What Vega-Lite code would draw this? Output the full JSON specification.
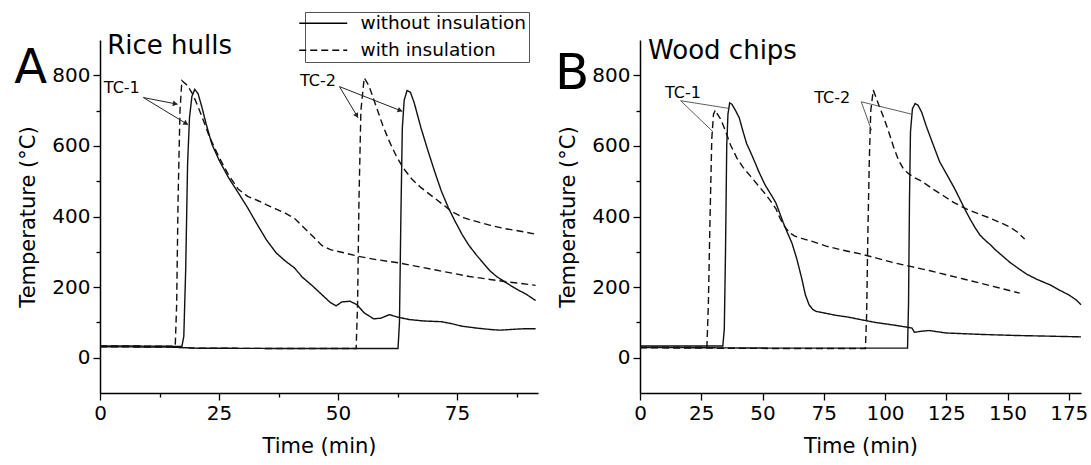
{
  "$schema": "https://vega.github.io/schema/vega-lite/v6.json",
  "padding": {"left": 14, "top": 11, "right": 0, "bottom": 0},
  "spacing": 15,
  "config": {
    "font": "DejaVu Sans",
    "view": {"stroke": null},
    "axis": {"domainColor": "#000", "domainWidth": 1.5, "tickColor": "#000", "tickWidth": 1.3, "labelColor": "#000", "titleColor": "#000", "labelFont": "DejaVu Sans", "titleFont": "DejaVu Sans", "labelFontSize": 20, "titleFontSize": 21, "titleFontWeight": "normal", "grid": false, "labelFlush": false, "labelOverlap": false},
    "legend": {"orient": "none", "title": null, "symbolType": "M-4.8,0H4.8", "symbolSize": 100, "symbolOffset": 7, "symbolStrokeWidth": 1.4, "symbolStrokeColor": "#000", "labelFontSize": 18.5, "labelFont": "DejaVu Sans", "labelColor": "#000", "labelOffset": 28, "labelLimit": 400, "strokeColor": "#555", "padding": 2, "rowPadding": 8}
  },
  "datasets": {
    "a": [
      {"t":0,"T":33,"tc":"TC-1","ins":"without insulation"},{"t":8,"T":33,"tc":"TC-1","ins":"without insulation"},{"t":17.2,"T":32,"tc":"TC-1","ins":"without insulation"},{"t":17.6,"T":60,"tc":"TC-1","ins":"without insulation"},{"t":18,"T":250,"tc":"TC-1","ins":"without insulation"},{"t":18.4,"T":550,"tc":"TC-1","ins":"without insulation"},{"t":18.8,"T":680,"tc":"TC-1","ins":"without insulation"},{"t":19.3,"T":740,"tc":"TC-1","ins":"without insulation"},{"t":19.9,"T":760,"tc":"TC-1","ins":"without insulation"},{"t":20.6,"T":748,"tc":"TC-1","ins":"without insulation"},{"t":21.4,"T":710,"tc":"TC-1","ins":"without insulation"},{"t":22.3,"T":662,"tc":"TC-1","ins":"without insulation"},{"t":23.5,"T":605,"tc":"TC-1","ins":"without insulation"},{"t":25,"T":560,"tc":"TC-1","ins":"without insulation"},{"t":27,"T":510,"tc":"TC-1","ins":"without insulation"},{"t":29,"T":468,"tc":"TC-1","ins":"without insulation"},{"t":31,"T":425,"tc":"TC-1","ins":"without insulation"},{"t":33,"T":378,"tc":"TC-1","ins":"without insulation"},{"t":35,"T":333,"tc":"TC-1","ins":"without insulation"},{"t":37,"T":297,"tc":"TC-1","ins":"without insulation"},{"t":39,"T":273,"tc":"TC-1","ins":"without insulation"},{"t":40.8,"T":255,"tc":"TC-1","ins":"without insulation"},{"t":42.5,"T":228,"tc":"TC-1","ins":"without insulation"},{"t":44.5,"T":205,"tc":"TC-1","ins":"without insulation"},{"t":46.5,"T":180,"tc":"TC-1","ins":"without insulation"},{"t":48.4,"T":156,"tc":"TC-1","ins":"without insulation"},{"t":49.6,"T":147,"tc":"TC-1","ins":"without insulation"},{"t":50.8,"T":158,"tc":"TC-1","ins":"without insulation"},{"t":52.5,"T":160,"tc":"TC-1","ins":"without insulation"},{"t":54,"T":150,"tc":"TC-1","ins":"without insulation"},{"t":55.5,"T":127,"tc":"TC-1","ins":"without insulation"},{"t":57.5,"T":110,"tc":"TC-1","ins":"without insulation"},{"t":59,"T":112,"tc":"TC-1","ins":"without insulation"},{"t":60.8,"T":122,"tc":"TC-1","ins":"without insulation"},{"t":62.5,"T":115,"tc":"TC-1","ins":"without insulation"},{"t":65,"T":108,"tc":"TC-1","ins":"without insulation"},{"t":68,"T":104,"tc":"TC-1","ins":"without insulation"},{"t":71.7,"T":102,"tc":"TC-1","ins":"without insulation"},{"t":74,"T":96,"tc":"TC-1","ins":"without insulation"},{"t":76.1,"T":89,"tc":"TC-1","ins":"without insulation"},{"t":79,"T":84,"tc":"TC-1","ins":"without insulation"},{"t":81.9,"T":80,"tc":"TC-1","ins":"without insulation"},{"t":84,"T":78,"tc":"TC-1","ins":"without insulation"},{"t":86.3,"T":80,"tc":"TC-1","ins":"without insulation"},{"t":89,"T":82,"tc":"TC-1","ins":"without insulation"},{"t":91.5,"T":82,"tc":"TC-1","ins":"without insulation"},
      {"t":0,"T":33,"tc":"TC-1","ins":"with insulation"},{"t":8,"T":33,"tc":"TC-1","ins":"with insulation"},{"t":15.8,"T":32,"tc":"TC-1","ins":"with insulation"},{"t":16.1,"T":150,"tc":"TC-1","ins":"with insulation"},{"t":16.4,"T":450,"tc":"TC-1","ins":"with insulation"},{"t":16.8,"T":700,"tc":"TC-1","ins":"with insulation"},{"t":17.2,"T":785,"tc":"TC-1","ins":"with insulation"},{"t":18.3,"T":772,"tc":"TC-1","ins":"with insulation"},{"t":19.5,"T":746,"tc":"TC-1","ins":"with insulation"},{"t":20.8,"T":704,"tc":"TC-1","ins":"with insulation"},{"t":22,"T":662,"tc":"TC-1","ins":"with insulation"},{"t":23,"T":625,"tc":"TC-1","ins":"with insulation"},{"t":25,"T":568,"tc":"TC-1","ins":"with insulation"},{"t":27,"T":518,"tc":"TC-1","ins":"with insulation"},{"t":29,"T":478,"tc":"TC-1","ins":"with insulation"},{"t":31,"T":457,"tc":"TC-1","ins":"with insulation"},{"t":33,"T":446,"tc":"TC-1","ins":"with insulation"},{"t":35,"T":433,"tc":"TC-1","ins":"with insulation"},{"t":37,"T":421,"tc":"TC-1","ins":"with insulation"},{"t":39,"T":409,"tc":"TC-1","ins":"with insulation"},{"t":41,"T":393,"tc":"TC-1","ins":"with insulation"},{"t":43,"T":366,"tc":"TC-1","ins":"with insulation"},{"t":45,"T":340,"tc":"TC-1","ins":"with insulation"},{"t":46.6,"T":318,"tc":"TC-1","ins":"with insulation"},{"t":48.4,"T":306,"tc":"TC-1","ins":"with insulation"},{"t":51,"T":298,"tc":"TC-1","ins":"with insulation"},{"t":54.3,"T":287,"tc":"TC-1","ins":"with insulation"},{"t":58,"T":278,"tc":"TC-1","ins":"with insulation"},{"t":63,"T":268,"tc":"TC-1","ins":"with insulation"},{"t":70.3,"T":249,"tc":"TC-1","ins":"with insulation"},{"t":77.6,"T":230,"tc":"TC-1","ins":"with insulation"},{"t":84.9,"T":216,"tc":"TC-1","ins":"with insulation"},{"t":91.5,"T":205,"tc":"TC-1","ins":"with insulation"},
      {"t":0,"T":31,"tc":"TC-2","ins":"with insulation"},{"t":15,"T":30,"tc":"TC-2","ins":"with insulation"},{"t":20,"T":27,"tc":"TC-2","ins":"with insulation"},{"t":40,"T":26,"tc":"TC-2","ins":"with insulation"},{"t":53.8,"T":26,"tc":"TC-2","ins":"with insulation"},{"t":54.1,"T":150,"tc":"TC-2","ins":"with insulation"},{"t":54.4,"T":450,"tc":"TC-2","ins":"with insulation"},{"t":54.8,"T":700,"tc":"TC-2","ins":"with insulation"},{"t":55.5,"T":793,"tc":"TC-2","ins":"with insulation"},{"t":56.5,"T":770,"tc":"TC-2","ins":"with insulation"},{"t":57.9,"T":716,"tc":"TC-2","ins":"with insulation"},{"t":59.4,"T":658,"tc":"TC-2","ins":"with insulation"},{"t":60.8,"T":612,"tc":"TC-2","ins":"with insulation"},{"t":62.2,"T":572,"tc":"TC-2","ins":"with insulation"},{"t":63.7,"T":537,"tc":"TC-2","ins":"with insulation"},{"t":65.5,"T":506,"tc":"TC-2","ins":"with insulation"},{"t":67.5,"T":481,"tc":"TC-2","ins":"with insulation"},{"t":70.3,"T":452,"tc":"TC-2","ins":"with insulation"},{"t":73.9,"T":414,"tc":"TC-2","ins":"with insulation"},{"t":76.5,"T":396,"tc":"TC-2","ins":"with insulation"},{"t":79,"T":386,"tc":"TC-2","ins":"with insulation"},{"t":82,"T":375,"tc":"TC-2","ins":"with insulation"},{"t":84.9,"T":366,"tc":"TC-2","ins":"with insulation"},{"t":88,"T":359,"tc":"TC-2","ins":"with insulation"},{"t":91.5,"T":350,"tc":"TC-2","ins":"with insulation"},
      {"t":0,"T":31,"tc":"TC-2","ins":"without insulation"},{"t":15,"T":30,"tc":"TC-2","ins":"without insulation"},{"t":20,"T":27,"tc":"TC-2","ins":"without insulation"},{"t":40,"T":26,"tc":"TC-2","ins":"without insulation"},{"t":62.6,"T":26,"tc":"TC-2","ins":"without insulation"},{"t":62.9,"T":100,"tc":"TC-2","ins":"without insulation"},{"t":63.2,"T":400,"tc":"TC-2","ins":"without insulation"},{"t":63.5,"T":650,"tc":"TC-2","ins":"without insulation"},{"t":63.9,"T":730,"tc":"TC-2","ins":"without insulation"},{"t":64.5,"T":757,"tc":"TC-2","ins":"without insulation"},{"t":65.2,"T":752,"tc":"TC-2","ins":"without insulation"},{"t":66,"T":722,"tc":"TC-2","ins":"without insulation"},{"t":67.4,"T":652,"tc":"TC-2","ins":"without insulation"},{"t":68.8,"T":590,"tc":"TC-2","ins":"without insulation"},{"t":70.3,"T":527,"tc":"TC-2","ins":"without insulation"},{"t":71.7,"T":472,"tc":"TC-2","ins":"without insulation"},{"t":73.2,"T":424,"tc":"TC-2","ins":"without insulation"},{"t":74.6,"T":386,"tc":"TC-2","ins":"without insulation"},{"t":76.1,"T":348,"tc":"TC-2","ins":"without insulation"},{"t":77.5,"T":318,"tc":"TC-2","ins":"without insulation"},{"t":79,"T":292,"tc":"TC-2","ins":"without insulation"},{"t":80.5,"T":268,"tc":"TC-2","ins":"without insulation"},{"t":81.9,"T":246,"tc":"TC-2","ins":"without insulation"},{"t":83.4,"T":229,"tc":"TC-2","ins":"without insulation"},{"t":84.9,"T":216,"tc":"TC-2","ins":"without insulation"},{"t":86.3,"T":204,"tc":"TC-2","ins":"without insulation"},{"t":87.8,"T":192,"tc":"TC-2","ins":"without insulation"},{"t":89.5,"T":180,"tc":"TC-2","ins":"without insulation"},{"t":91.5,"T":162,"tc":"TC-2","ins":"without insulation"}
    ],
    "b": [
      {"t":0,"T":33,"tc":"TC-1","ins":"without insulation"},{"t":20,"T":33,"tc":"TC-1","ins":"without insulation"},{"t":33.8,"T":33,"tc":"TC-1","ins":"without insulation"},{"t":34.4,"T":80,"tc":"TC-1","ins":"without insulation"},{"t":34.9,"T":300,"tc":"TC-1","ins":"without insulation"},{"t":35.4,"T":600,"tc":"TC-1","ins":"without insulation"},{"t":35.9,"T":690,"tc":"TC-1","ins":"without insulation"},{"t":36.6,"T":722,"tc":"TC-1","ins":"without insulation"},{"t":37.5,"T":718,"tc":"TC-1","ins":"without insulation"},{"t":39,"T":700,"tc":"TC-1","ins":"without insulation"},{"t":40.5,"T":680,"tc":"TC-1","ins":"without insulation"},{"t":42,"T":642,"tc":"TC-1","ins":"without insulation"},{"t":43.5,"T":607,"tc":"TC-1","ins":"without insulation"},{"t":45,"T":584,"tc":"TC-1","ins":"without insulation"},{"t":47,"T":552,"tc":"TC-1","ins":"without insulation"},{"t":48.5,"T":527,"tc":"TC-1","ins":"without insulation"},{"t":51,"T":490,"tc":"TC-1","ins":"without insulation"},{"t":54,"T":456,"tc":"TC-1","ins":"without insulation"},{"t":55.5,"T":438,"tc":"TC-1","ins":"without insulation"},{"t":57,"T":410,"tc":"TC-1","ins":"without insulation"},{"t":58.5,"T":382,"tc":"TC-1","ins":"without insulation"},{"t":60,"T":357,"tc":"TC-1","ins":"without insulation"},{"t":62,"T":325,"tc":"TC-1","ins":"without insulation"},{"t":64,"T":280,"tc":"TC-1","ins":"without insulation"},{"t":66,"T":225,"tc":"TC-1","ins":"without insulation"},{"t":67.5,"T":178,"tc":"TC-1","ins":"without insulation"},{"t":69,"T":150,"tc":"TC-1","ins":"without insulation"},{"t":70.5,"T":137,"tc":"TC-1","ins":"without insulation"},{"t":72,"T":131,"tc":"TC-1","ins":"without insulation"},{"t":75,"T":127,"tc":"TC-1","ins":"without insulation"},{"t":80,"T":120,"tc":"TC-1","ins":"without insulation"},{"t":85,"T":115,"tc":"TC-1","ins":"without insulation"},{"t":90,"T":108,"tc":"TC-1","ins":"without insulation"},{"t":96,"T":100,"tc":"TC-1","ins":"without insulation"},{"t":100,"T":96,"tc":"TC-1","ins":"without insulation"},{"t":104,"T":92,"tc":"TC-1","ins":"without insulation"},{"t":109.4,"T":86,"tc":"TC-1","ins":"without insulation"},{"t":111,"T":84,"tc":"TC-1","ins":"without insulation"},{"t":112,"T":72,"tc":"TC-1","ins":"without insulation"},{"t":115,"T":75,"tc":"TC-1","ins":"without insulation"},{"t":118,"T":77,"tc":"TC-1","ins":"without insulation"},{"t":122,"T":73,"tc":"TC-1","ins":"without insulation"},{"t":125,"T":70,"tc":"TC-1","ins":"without insulation"},{"t":139,"T":66,"tc":"TC-1","ins":"without insulation"},{"t":153,"T":63,"tc":"TC-1","ins":"without insulation"},{"t":167,"T":61,"tc":"TC-1","ins":"without insulation"},{"t":180,"T":59,"tc":"TC-1","ins":"without insulation"},
      {"t":0,"T":30,"tc":"TC-1","ins":"with insulation"},{"t":20,"T":30,"tc":"TC-1","ins":"with insulation"},{"t":27.3,"T":30,"tc":"TC-1","ins":"with insulation"},{"t":27.9,"T":150,"tc":"TC-1","ins":"with insulation"},{"t":28.6,"T":400,"tc":"TC-1","ins":"with insulation"},{"t":29.3,"T":620,"tc":"TC-1","ins":"with insulation"},{"t":30,"T":690,"tc":"TC-1","ins":"with insulation"},{"t":30.8,"T":702,"tc":"TC-1","ins":"with insulation"},{"t":31.6,"T":690,"tc":"TC-1","ins":"with insulation"},{"t":33,"T":675,"tc":"TC-1","ins":"with insulation"},{"t":35,"T":640,"tc":"TC-1","ins":"with insulation"},{"t":37,"T":602,"tc":"TC-1","ins":"with insulation"},{"t":39.5,"T":566,"tc":"TC-1","ins":"with insulation"},{"t":42,"T":540,"tc":"TC-1","ins":"with insulation"},{"t":45,"T":515,"tc":"TC-1","ins":"with insulation"},{"t":48,"T":490,"tc":"TC-1","ins":"with insulation"},{"t":51,"T":465,"tc":"TC-1","ins":"with insulation"},{"t":53.5,"T":442,"tc":"TC-1","ins":"with insulation"},{"t":55.5,"T":422,"tc":"TC-1","ins":"with insulation"},{"t":57,"T":397,"tc":"TC-1","ins":"with insulation"},{"t":59,"T":372,"tc":"TC-1","ins":"with insulation"},{"t":61,"T":354,"tc":"TC-1","ins":"with insulation"},{"t":63,"T":345,"tc":"TC-1","ins":"with insulation"},{"t":66,"T":338,"tc":"TC-1","ins":"with insulation"},{"t":70,"T":330,"tc":"TC-1","ins":"with insulation"},{"t":76,"T":316,"tc":"TC-1","ins":"with insulation"},{"t":82.5,"T":305,"tc":"TC-1","ins":"with insulation"},{"t":90,"T":294,"tc":"TC-1","ins":"with insulation"},{"t":96.6,"T":282,"tc":"TC-1","ins":"with insulation"},{"t":103,"T":270,"tc":"TC-1","ins":"with insulation"},{"t":110.8,"T":258,"tc":"TC-1","ins":"with insulation"},{"t":118,"T":247,"tc":"TC-1","ins":"with insulation"},{"t":125,"T":235,"tc":"TC-1","ins":"with insulation"},{"t":132,"T":223,"tc":"TC-1","ins":"with insulation"},{"t":139,"T":211,"tc":"TC-1","ins":"with insulation"},{"t":147,"T":197,"tc":"TC-1","ins":"with insulation"},{"t":155,"T":183,"tc":"TC-1","ins":"with insulation"},
      {"t":0,"T":28,"tc":"TC-2","ins":"with insulation"},{"t":30,"T":27,"tc":"TC-2","ins":"with insulation"},{"t":60,"T":26,"tc":"TC-2","ins":"with insulation"},{"t":92,"T":26,"tc":"TC-2","ins":"with insulation"},{"t":92.5,"T":120,"tc":"TC-2","ins":"with insulation"},{"t":93,"T":350,"tc":"TC-2","ins":"with insulation"},{"t":93.6,"T":560,"tc":"TC-2","ins":"with insulation"},{"t":94.2,"T":700,"tc":"TC-2","ins":"with insulation"},{"t":95.2,"T":758,"tc":"TC-2","ins":"with insulation"},{"t":96.2,"T":740,"tc":"TC-2","ins":"with insulation"},{"t":97.5,"T":715,"tc":"TC-2","ins":"with insulation"},{"t":99.5,"T":680,"tc":"TC-2","ins":"with insulation"},{"t":101.5,"T":640,"tc":"TC-2","ins":"with insulation"},{"t":103.5,"T":597,"tc":"TC-2","ins":"with insulation"},{"t":105.5,"T":560,"tc":"TC-2","ins":"with insulation"},{"t":107.5,"T":535,"tc":"TC-2","ins":"with insulation"},{"t":109.5,"T":522,"tc":"TC-2","ins":"with insulation"},{"t":112,"T":510,"tc":"TC-2","ins":"with insulation"},{"t":115,"T":500,"tc":"TC-2","ins":"with insulation"},{"t":119.5,"T":478,"tc":"TC-2","ins":"with insulation"},{"t":124,"T":458,"tc":"TC-2","ins":"with insulation"},{"t":128,"T":440,"tc":"TC-2","ins":"with insulation"},{"t":133,"T":422,"tc":"TC-2","ins":"with insulation"},{"t":138,"T":408,"tc":"TC-2","ins":"with insulation"},{"t":143,"T":395,"tc":"TC-2","ins":"with insulation"},{"t":147,"T":383,"tc":"TC-2","ins":"with insulation"},{"t":151,"T":370,"tc":"TC-2","ins":"with insulation"},{"t":154,"T":356,"tc":"TC-2","ins":"with insulation"},{"t":157,"T":336,"tc":"TC-2","ins":"with insulation"},
      {"t":0,"T":29,"tc":"TC-2","ins":"without insulation"},{"t":30,"T":28,"tc":"TC-2","ins":"without insulation"},{"t":60,"T":27,"tc":"TC-2","ins":"without insulation"},{"t":90,"T":27,"tc":"TC-2","ins":"without insulation"},{"t":109.2,"T":27,"tc":"TC-2","ins":"without insulation"},{"t":109.6,"T":150,"tc":"TC-2","ins":"without insulation"},{"t":110,"T":450,"tc":"TC-2","ins":"without insulation"},{"t":110.4,"T":640,"tc":"TC-2","ins":"without insulation"},{"t":111.2,"T":705,"tc":"TC-2","ins":"without insulation"},{"t":112.3,"T":720,"tc":"TC-2","ins":"without insulation"},{"t":113.5,"T":715,"tc":"TC-2","ins":"without insulation"},{"t":115,"T":695,"tc":"TC-2","ins":"without insulation"},{"t":116.8,"T":657,"tc":"TC-2","ins":"without insulation"},{"t":118.5,"T":625,"tc":"TC-2","ins":"without insulation"},{"t":120.5,"T":588,"tc":"TC-2","ins":"without insulation"},{"t":122.3,"T":555,"tc":"TC-2","ins":"without insulation"},{"t":124.5,"T":528,"tc":"TC-2","ins":"without insulation"},{"t":126.5,"T":503,"tc":"TC-2","ins":"without insulation"},{"t":128.5,"T":478,"tc":"TC-2","ins":"without insulation"},{"t":130.5,"T":450,"tc":"TC-2","ins":"without insulation"},{"t":132.5,"T":422,"tc":"TC-2","ins":"without insulation"},{"t":134.7,"T":393,"tc":"TC-2","ins":"without insulation"},{"t":136.8,"T":368,"tc":"TC-2","ins":"without insulation"},{"t":138.8,"T":347,"tc":"TC-2","ins":"without insulation"},{"t":141,"T":332,"tc":"TC-2","ins":"without insulation"},{"t":143,"T":320,"tc":"TC-2","ins":"without insulation"},{"t":145,"T":306,"tc":"TC-2","ins":"without insulation"},{"t":147,"T":294,"tc":"TC-2","ins":"without insulation"},{"t":151,"T":270,"tc":"TC-2","ins":"without insulation"},{"t":155,"T":250,"tc":"TC-2","ins":"without insulation"},{"t":158,"T":236,"tc":"TC-2","ins":"without insulation"},{"t":162,"T":222,"tc":"TC-2","ins":"without insulation"},{"t":167.5,"T":206,"tc":"TC-2","ins":"without insulation"},{"t":171.6,"T":190,"tc":"TC-2","ins":"without insulation"},{"t":175,"T":178,"tc":"TC-2","ins":"without insulation"},{"t":178,"T":164,"tc":"TC-2","ins":"without insulation"},{"t":180,"T":150,"tc":"TC-2","ins":"without insulation"}
    ],
    "labA": [
      {"t":-18,"T":778,"label":"A","kind":"letter"},
      {"t":1.5,"T":860,"label":"Rice hulls","kind":"title"},
      {"t":0.8,"T":765,"label":"TC-1","kind":"tc"},
      {"t":42,"T":785,"label":"TC-2","kind":"tc"}
    ],
    "labB": [
      {"t":-34.7,"T":761,"label":"B","kind":"letter"},
      {"t":3.3,"T":846,"label":"Wood chips","kind":"title"},
      {"t":10.2,"T":751,"label":"TC-1","kind":"tc"},
      {"t":71.1,"T":737,"label":"TC-2","kind":"tc"}
    ],
    "arrA": [
      {"name":"a1","t1":9.1,"v1":737,"t2":16.3,"v2":718},
      {"name":"a2","t1":9.1,"v1":737,"t2":18.5,"v2":660},
      {"name":"a3","t1":50.3,"v1":768,"t2":54.2,"v2":680},
      {"name":"a4","t1":50.3,"v1":768,"t2":63.5,"v2":698}
    ],
    "arrB": [
      {"name":"b1","t1":16.6,"v1":728,"t2":29.8,"v2":640},
      {"name":"b2","t1":16.6,"v1":728,"t2":36.4,"v2":706},
      {"name":"b3","t1":90.3,"v1":725,"t2":94.5,"v2":644},
      {"name":"b4","t1":90.3,"v1":725,"t2":110.8,"v2":690}
    ]
  },
  "hconcat": [
    {
      "width": 438,
      "height": 353,
      "layer": [
        {
          "data": {"name": "a"},
          "mark": {"type": "line", "color": "#111", "strokeWidth": 1.4},
          "encoding": {
            "x": {"field": "t", "type": "quantitative", "scale": {"domain": [0, 92], "nice": false, "zero": false},
                  "axis": {"title": "Time (min)", "values": [0,12.5,25,37.5,50,62.5,75,87.5], "labelExpr": "datum.value % 25 === 0 ? datum.label : ''", "tickSize": {"condition": {"test": "datum.value % 25 !== 0", "value": 4}, "value": 7}, "labelPadding": 3, "titlePadding": 12}},
            "y": {"field": "T", "type": "quantitative", "scale": {"domain": [-100, 900], "nice": false, "zero": false},
                  "axis": {"title": "Temperature (°C)", "values": [0,100,200,300,400,500,600,700,800], "labelExpr": "datum.value % 200 === 0 ? datum.label : ''", "tickSize": {"condition": {"test": "datum.value % 200 !== 0", "value": 4}, "value": 7}, "labelPadding": 3, "titlePadding": 13}},
            "detail": {"field": "tc"},
            "strokeDash": {"field": "ins", "type": "nominal", "scale": {"domain": ["without insulation", "with insulation"], "range": [[1, 0], [7, 4]]},
                           "legend": {"legendX": 205, "legendY": -28}}
          }
        },
        {
          "data": {"name": "arrA"},
          "mark": {"type": "rule", "color": "#222", "strokeWidth": 1},
          "encoding": {
            "x": {"field": "t1", "type": "quantitative", "scale": {"domain": [0, 92], "nice": false, "zero": false}},
            "y": {"field": "v1", "type": "quantitative", "scale": {"domain": [-100, 900], "nice": false, "zero": false}},
            "x2": {"field": "t2"},
            "y2": {"field": "v2"}
          }
        },
        {
          "data": {"name": "arrA"},
          "transform": [{"filter": "datum.name === 'a1'"}],
          "mark": {"type": "point", "shape": "M-1,-0.6L0,0L-1,0.6Z", "filled": true, "color": "#222", "size": 90, "opacity": 1, "angle": 11},
          "encoding": {
            "x": {"field": "t2", "type": "quantitative", "scale": {"domain": [0, 92], "nice": false, "zero": false}},
            "y": {"field": "v2", "type": "quantitative", "scale": {"domain": [-100, 900], "nice": false, "zero": false}}
          }
        },
        {
          "data": {"name": "arrA"},
          "transform": [{"filter": "datum.name === 'a2'"}],
          "mark": {"type": "point", "shape": "M-1,-0.6L0,0L-1,0.6Z", "filled": true, "color": "#222", "size": 90, "opacity": 1, "angle": 31},
          "encoding": {
            "x": {"field": "t2", "type": "quantitative", "scale": {"domain": [0, 92], "nice": false, "zero": false}},
            "y": {"field": "v2", "type": "quantitative", "scale": {"domain": [-100, 900], "nice": false, "zero": false}}
          }
        },
        {
          "data": {"name": "arrA"},
          "transform": [{"filter": "datum.name === 'a3'"}],
          "mark": {"type": "point", "shape": "M-1,-0.6L0,0L-1,0.6Z", "filled": true, "color": "#222", "size": 90, "opacity": 1, "angle": 59},
          "encoding": {
            "x": {"field": "t2", "type": "quantitative", "scale": {"domain": [0, 92], "nice": false, "zero": false}},
            "y": {"field": "v2", "type": "quantitative", "scale": {"domain": [-100, 900], "nice": false, "zero": false}}
          }
        },
        {
          "data": {"name": "arrA"},
          "transform": [{"filter": "datum.name === 'a4'"}],
          "mark": {"type": "point", "shape": "M-1,-0.6L0,0L-1,0.6Z", "filled": true, "color": "#222", "size": 90, "opacity": 1, "angle": 21},
          "encoding": {
            "x": {"field": "t2", "type": "quantitative", "scale": {"domain": [0, 92], "nice": false, "zero": false}},
            "y": {"field": "v2", "type": "quantitative", "scale": {"domain": [-100, 900], "nice": false, "zero": false}}
          }
        },
        {
          "data": {"name": "labA"},
          "transform": [{"filter": "datum.kind === 'letter'"}],
          "mark": {"type": "text", "align": "left", "baseline": "alphabetic", "fontSize": 48, "font": "DejaVu Sans", "color": "#000"},
          "encoding": {
            "x": {"field": "t", "type": "quantitative", "scale": {"domain": [0, 92], "nice": false, "zero": false}},
            "y": {"field": "T", "type": "quantitative", "scale": {"domain": [-100, 900], "nice": false, "zero": false}},
            "text": {"field": "label"}
          }
        },
        {
          "data": {"name": "labA"},
          "transform": [{"filter": "datum.kind === 'title'"}],
          "mark": {"type": "text", "align": "left", "baseline": "alphabetic", "fontSize": 26, "font": "DejaVu Sans", "color": "#000"},
          "encoding": {
            "x": {"field": "t", "type": "quantitative", "scale": {"domain": [0, 92], "nice": false, "zero": false}},
            "y": {"field": "T", "type": "quantitative", "scale": {"domain": [-100, 900], "nice": false, "zero": false}},
            "text": {"field": "label"}
          }
        },
        {
          "data": {"name": "labA"},
          "transform": [{"filter": "datum.kind === 'tc'"}],
          "mark": {"type": "text", "align": "left", "baseline": "middle", "fontSize": 16, "font": "DejaVu Sans", "color": "#000"},
          "encoding": {
            "x": {"field": "t", "type": "quantitative", "scale": {"domain": [0, 92], "nice": false, "zero": false}},
            "y": {"field": "T", "type": "quantitative", "scale": {"domain": [-100, 900], "nice": false, "zero": false}},
            "text": {"field": "label"}
          }
        }
      ]
    },
    {
      "width": 441,
      "height": 353,
      "layer": [
        {
          "data": {"name": "b"},
          "mark": {"type": "line", "color": "#111", "strokeWidth": 1.4},
          "encoding": {
            "x": {"field": "t", "type": "quantitative", "scale": {"domain": [0, 180], "nice": false, "zero": false},
                  "axis": {"title": "Time (min)", "values": [0,12.5,25,37.5,50,62.5,75,87.5,100,112.5,125,137.5,150,162.5,175], "labelExpr": "datum.value % 25 === 0 ? datum.label : ''", "tickSize": {"condition": {"test": "datum.value % 25 !== 0", "value": 4}, "value": 7}, "labelPadding": 3, "titlePadding": 12}},
            "y": {"field": "T", "type": "quantitative", "scale": {"domain": [-100, 900], "nice": false, "zero": false},
                  "axis": {"title": "Temperature (°C)", "values": [0,100,200,300,400,500,600,700,800], "labelExpr": "datum.value % 200 === 0 ? datum.label : ''", "tickSize": {"condition": {"test": "datum.value % 200 !== 0", "value": 4}, "value": 7}, "labelPadding": 3, "titlePadding": 13}},
            "detail": {"field": "tc"},
            "strokeDash": {"field": "ins", "type": "nominal", "scale": {"domain": ["without insulation", "with insulation"], "range": [[1, 0], [7, 4]]},
                           "legend": {"legendX": 226, "legendY": -27}}
          }
        },
        {
          "data": {"name": "arrB"},
          "mark": {"type": "rule", "color": "#333", "strokeWidth": 0.8},
          "encoding": {
            "x": {"field": "t1", "type": "quantitative", "scale": {"domain": [0, 180], "nice": false, "zero": false}},
            "y": {"field": "v1", "type": "quantitative", "scale": {"domain": [-100, 900], "nice": false, "zero": false}},
            "x2": {"field": "t2"},
            "y2": {"field": "v2"}
          }
        },
        {
          "data": {"name": "labB"},
          "transform": [{"filter": "datum.kind === 'letter'"}],
          "mark": {"type": "text", "align": "left", "baseline": "alphabetic", "fontSize": 50, "font": "DejaVu Sans", "color": "#000"},
          "encoding": {
            "x": {"field": "t", "type": "quantitative", "scale": {"domain": [0, 180], "nice": false, "zero": false}},
            "y": {"field": "T", "type": "quantitative", "scale": {"domain": [-100, 900], "nice": false, "zero": false}},
            "text": {"field": "label"}
          }
        },
        {
          "data": {"name": "labB"},
          "transform": [{"filter": "datum.kind === 'title'"}],
          "mark": {"type": "text", "align": "left", "baseline": "alphabetic", "fontSize": 26, "font": "DejaVu Sans", "color": "#000"},
          "encoding": {
            "x": {"field": "t", "type": "quantitative", "scale": {"domain": [0, 180], "nice": false, "zero": false}},
            "y": {"field": "T", "type": "quantitative", "scale": {"domain": [-100, 900], "nice": false, "zero": false}},
            "text": {"field": "label"}
          }
        },
        {
          "data": {"name": "labB"},
          "transform": [{"filter": "datum.kind === 'tc'"}],
          "mark": {"type": "text", "align": "left", "baseline": "middle", "fontSize": 16, "font": "DejaVu Sans", "color": "#000"},
          "encoding": {
            "x": {"field": "t", "type": "quantitative", "scale": {"domain": [0, 180], "nice": false, "zero": false}},
            "y": {"field": "T", "type": "quantitative", "scale": {"domain": [-100, 900], "nice": false, "zero": false}},
            "text": {"field": "label"}
          }
        }
      ]
    }
  ]
}
